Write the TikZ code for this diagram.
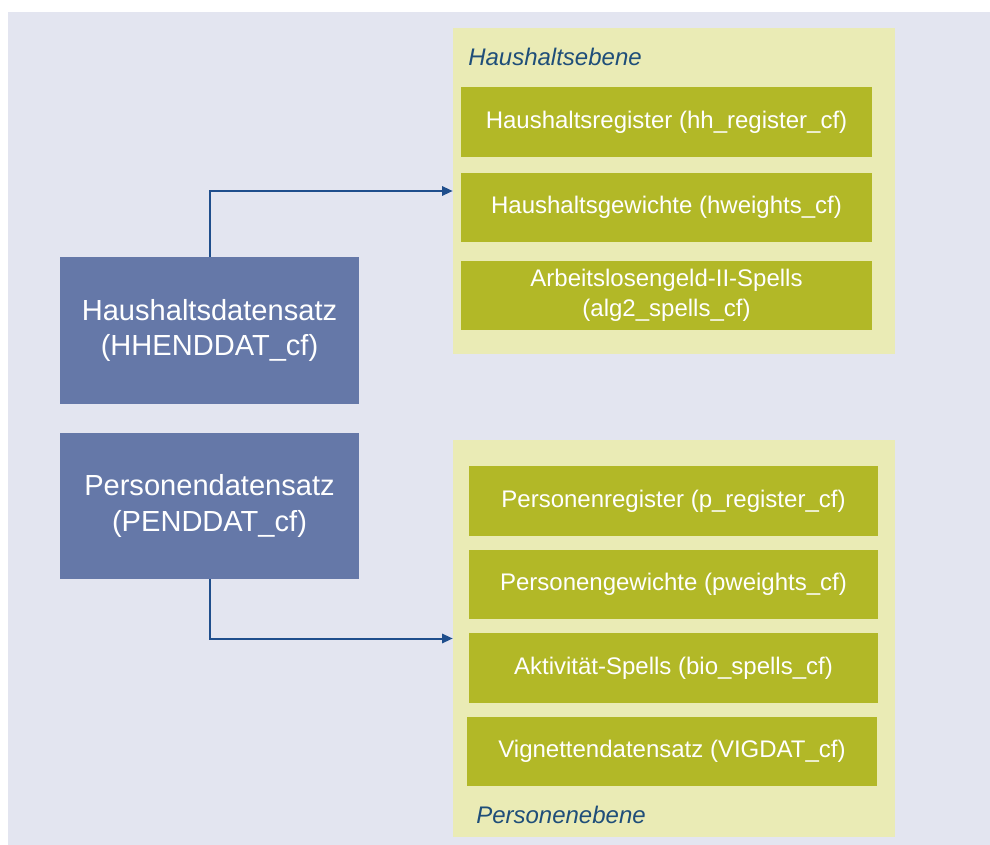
\documentclass[tikz,border=0pt]{standalone}
\usepackage{fontspec}
\setmainfont{Liberation Sans}
\usetikzlibrary{arrows.meta}
\definecolor{bgcol}{HTML}{E3E5F0}
\definecolor{panelcol}{HTML}{EAEBB5}
\definecolor{greencol}{HTML}{B2B827}
\definecolor{bluecol}{HTML}{6578A8}
\definecolor{arrowcol}{HTML}{1F4E8C}
\definecolor{labelcol}{HTML}{1F4E79}
\begin{document}
\begin{tikzpicture}[x=0.75pt,y=-0.75pt,
  datbox/.style={fill=bluecol, text=white, align=center, inner sep=0pt,
    minimum width=224.25pt, font=\fontsize{21.8}{26.5}\selectfont},
  panel/.style={fill=panelcol, inner sep=0pt, minimum width=331.5pt},
  filebox/.style={fill=greencol, text=white, align=center, inner sep=0pt,
    minimum height=52pt, font=\fontsize{18}{22.5}\selectfont},
  ebene/.style={anchor=west, inner sep=0pt, text=labelcol,
    font=\fontsize{18}{22}\selectfont\itshape},
  arr/.style={draw=arrowcol, line width=1.5pt, -{Triangle[length=8pt,width=7pt]}}]
\useasboundingbox (0,0) rectangle (990,845);
\fill[bgcol] (8,12) rectangle (990,845);

% Haushaltsebene
\node[panel, minimum height=244.5pt] (hhebene) at (674,191) {};
\node[ebene] (hhlabel) at (468,57) {Haushaltsebene};
\node[filebox, minimum width=308.25pt] (hhreg) at (666.5,122) {Haushaltsregister (hh\_register\_cf)};
\node[filebox, minimum width=308.25pt] (hweights) at (666.5,207.5) {Haushaltsgewichte (hweights\_cf)};
\node[filebox, minimum width=308.25pt] (alg2) at (666.5,295.5) {Arbeitslosengeld-II-Spells\\(alg2\_spells\_cf)};

% Personenebene
\node[panel, minimum height=297.75pt] (pebene) at (674,638.5) {};
\node[filebox, minimum width=306.75pt] (preg) at (673.5,501) {Personenregister (p\_register\_cf)};
\node[filebox, minimum width=306.75pt] (pweights) at (673.5,584.5) {Personengewichte (pweights\_cf)};
\node[filebox, minimum width=306.75pt] (bio) at (673.5,668) {Aktivität-Spells (bio\_spells\_cf)};
\node[filebox, minimum width=307.5pt] (vig) at (672,751.5) {Vignettendatensatz (VIGDAT\_cf)};
\node[ebene] (plabel) at (476,815) {Personenebene};

% Datensaetze
\node[datbox, minimum height=110.25pt] (hh) at (209.5,330.5) {Haushaltsdatensatz\\(HHENDDAT\_cf)};
\node[datbox, minimum height=109.5pt] (pd) at (209.5,506) {Personendatensatz\\(PENDDAT\_cf)};

\path[arr] (hh.north) |- (hhebene.west);
\path[arr] (pd.south) |- (pebene.west);
\end{tikzpicture}
\end{document}
